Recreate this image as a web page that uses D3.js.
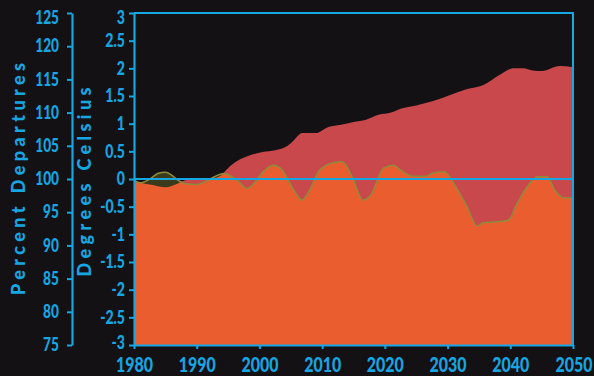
<!DOCTYPE html>
<html>
<head>
<meta charset="utf-8">
<script src="https://cdn.jsdelivr.net/npm/d3@7"></script>
<style>
  html, body { margin: 0; padding: 0; background: #141114; }
  svg { display: block; }
  text { font-family: Lato, "Open Sans", sans-serif; font-weight: 900; fill: #16a6e2; }
</style>
</head>
<body>
<svg id="chart" width="594" height="376"></svg>
<script>
// ---- data ----
const upperYears  = [1980, 1981, 1983, 1985, 1987, 1988.5, 1990, 1992, 1993.5, 1995.5, 1997, 1998.5, 2000.5, 2002.5, 2004.5, 2005.5, 2006.8, 2009, 2011, 2013, 2015, 2017, 2019, 2021, 2022.5, 2025, 2027.7, 2030.4, 2033, 2035.7, 2038.4, 2040.5, 2042, 2043.6, 2045, 2047.9, 2050];
const upperValues = [-0.04, -0.07, -0.11, -0.15, -0.08, -0.02, -0.02, 0.0, 0.04, 0.25, 0.36, 0.43, 0.49, 0.52, 0.6, 0.7, 0.83, 0.83, 0.94, 0.98, 1.03, 1.07, 1.16, 1.2, 1.27, 1.33, 1.41, 1.52, 1.62, 1.7, 1.89, 2.0, 2.0, 1.96, 1.95, 2.04, 2.02];

const lowerYears  = [1980, 1981, 1982.5, 1984, 1985, 1986, 1987, 1988, 1990, 1991.5, 1993, 1994.3, 1995.5, 1996.7, 1998, 1999.2, 2000.5, 2002.2, 2003.5, 2004.5, 2005.5, 2006.8, 2008, 2009.6, 2012, 2013.2, 2014.8, 2016.5, 2017.7, 2019.8, 2021.4, 2022.5, 2024.5, 2026.5, 2027.7, 2029.6, 2030.4, 2033.1, 2034.7, 2035.7, 2038.4, 2039.7, 2041.1, 2042.7, 2044.3, 2045.9, 2047.1, 2048.4, 2050];
const lowerValues = [-0.02, -0.07, 0.0, 0.11, 0.12, 0.07, -0.02, -0.08, -0.1, -0.04, 0.05, 0.1, 0.05, -0.05, -0.17, -0.07, 0.12, 0.25, 0.18, 0.0, -0.2, -0.38, -0.2, 0.16, 0.3, 0.31, 0.04, -0.38, -0.3, 0.2, 0.25, 0.16, 0.05, 0.05, 0.11, 0.13, 0.02, -0.5, -0.85, -0.79, -0.77, -0.74, -0.44, -0.14, 0.04, 0.04, -0.2, -0.34, -0.34];

const yearTicks    = [1980, 1990, 2000, 2010, 2020, 2030, 2040, 2050];
const celsiusTicks = [3, 2.5, 2, 1.5, 1, 0.5, 0, -0.5, -1, -1.5, -2, -2.5, -3];
const percentTicks = [125, 120, 115, 110, 105, 100, 95, 90, 85, 80, 75];

const leftTitle  = "Percent Departures";
const rightTitle = "Degrees Celsius";

// ---- layout ----
const CYAN = "#16a6e2";
const svg = d3.select("#chart");
const plot = { left: 134, right: 573, top: 13, bottom: 345 };
const pctAxisX = 72;

const x = d3.scaleLinear().domain([1980, 2050]).range([plot.left, plot.right]);
const y = d3.scaleLinear().domain([-3, 3]).range([plot.bottom, plot.top]);
const yPct = d3.scaleLinear().domain([75, 125]).range([plot.bottom, plot.top]);

const upper = upperYears.map((yr, i) => ({ yr, v: upperValues[i] }));
const lower = lowerYears.map((yr, i) => ({ yr, v: lowerValues[i] }));

const curve = d3.curveMonotoneX;

// clip: region above the upper series
const defs = svg.append("defs");
defs.append("clipPath").attr("id", "aboveUpper")
  .append("path")
  .attr("d", d3.area().curve(curve).x(d => x(d.yr)).y0(plot.top - 5).y1(d => y(d.v))(upper));

// red area (upper series)
svg.append("path")
  .attr("d", d3.area().curve(curve).x(d => x(d.yr)).y0(y(-3)).y1(d => y(d.v))(upper))
  .attr("fill", "#c8484b");

// orange area (lower series)
const lowerArea = d3.area().curve(curve).x(d => x(d.yr)).y0(y(-3)).y1(d => y(d.v));
svg.append("path").attr("d", lowerArea(lower)).attr("fill", "#ea5d2f");

// dark olive where lower series exceeds upper
svg.append("path").attr("d", lowerArea(lower)).attr("fill", "#3c3a1d")
  .attr("clip-path", "url(#aboveUpper)");

// olive line on lower series
svg.append("path")
  .attr("d", d3.line().curve(curve).x(d => x(d.yr)).y(d => y(d.v))(lower))
  .attr("fill", "none").attr("stroke", "#8f8b3a").attr("stroke-width", 1.5);

// frame lines (top, right) and zero line
svg.append("line").attr("x1", plot.left).attr("x2", plot.right + 1).attr("y1", plot.top).attr("y2", plot.top)
  .attr("stroke", CYAN).attr("stroke-width", 2);
svg.append("line").attr("x1", plot.right).attr("x2", plot.right).attr("y1", plot.top).attr("y2", plot.bottom)
  .attr("stroke", CYAN).attr("stroke-width", 2);
svg.append("line").attr("x1", plot.left).attr("x2", plot.right).attr("y1", y(0)).attr("y2", y(0))
  .attr("stroke", CYAN).attr("stroke-width", 2);

// Celsius axis
const gC = svg.append("g").attr("transform", `translate(${plot.left},0)`)
  .call(d3.axisLeft(y).tickValues(celsiusTicks).tickSize(5).tickSizeOuter(0).tickPadding(4).tickFormat(d => String(d)));
// Percent axis
const gP = svg.append("g").attr("transform", `translate(${pctAxisX},0)`)
  .call(d3.axisLeft(yPct).tickValues(percentTicks).tickSize(5).tickSizeOuter(0).tickPadding(8).tickFormat(d => String(d)));
// Year axis
const gX = svg.append("g").attr("transform", `translate(0,${plot.bottom})`)
  .call(d3.axisBottom(x).tickValues(yearTicks).tickSize(4).tickSizeOuter(0).tickPadding(8).tickFormat(d => String(d)));

[gC, gP, gX].forEach(g => {
  g.select(".domain").attr("stroke", CYAN).attr("stroke-width", 2.2);
  g.selectAll(".tick line").attr("stroke", CYAN).attr("stroke-width", 2);
  g.selectAll(".tick text").attr("fill", CYAN).attr("font-family", null);
});
gC.selectAll(".tick text").attr("font-size", 18);
gP.selectAll(".tick text").attr("font-size", 18);
gX.selectAll(".tick text").attr("font-size", 21);
// top labels sit slightly below their ticks, bottom Celsius label slightly above
gC.selectAll(".tick text").filter(d => d === 3).attr("dy", "0.6em");
gP.selectAll(".tick text").filter(d => d === 125).attr("dy", "0.6em");
gC.selectAll(".tick text").filter(d => d === -3).attr("dy", "0.2em");

// condense tick glyphs to mimic the narrow Gill Sans numerals
function condense(sel, k) {
  sel.each(function () {
    const w = this.getComputedTextLength();
    d3.select(this).attr("textLength", w * k).attr("lengthAdjust", "spacingAndGlyphs");
  });
}
condense(gC.selectAll(".tick text"), 0.78);
condense(gP.selectAll(".tick text"), 0.76);
condense(gX.selectAll(".tick text"), 0.76);
// keep the last year label inside the picture, right-aligned near the edge
gX.selectAll(".tick text").filter(d => d === 2050)
  .attr("text-anchor", "end").attr("x", 19);

// axis titles
svg.append("text").attr("transform", "translate(25,179) rotate(-90)")
  .attr("text-anchor", "middle").attr("font-size", 18)
  .attr("textLength", 232).attr("lengthAdjust", "spacing").text(leftTitle);
svg.append("text").attr("transform", "translate(91,182) rotate(-90)")
  .attr("text-anchor", "middle").attr("font-size", 18)
  .attr("textLength", 189).attr("lengthAdjust", "spacing").text(rightTitle);
</script>
</body>
</html>
